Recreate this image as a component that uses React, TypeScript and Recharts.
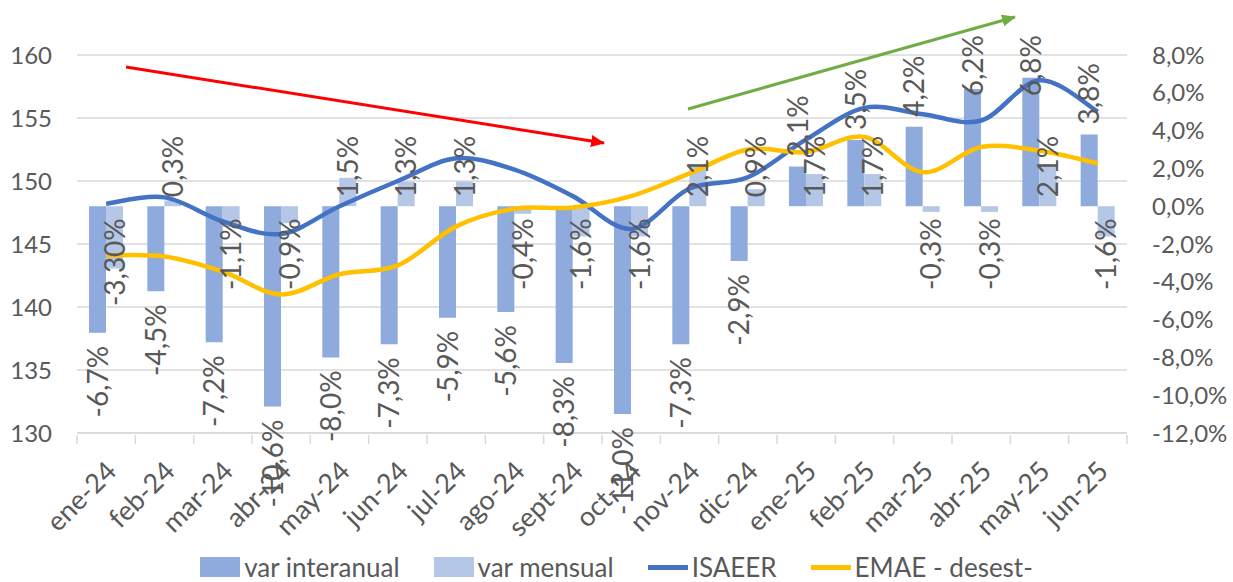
import React from "react";
import { ComposedChart, Bar, Line, XAxis, YAxis, CartesianGrid, Legend, LabelList } from "recharts";

const months = [
  "ene-24", "feb-24", "mar-24", "abr-24", "may-24", "jun-24", "jul-24", "ago-24", "sept-24",
  "oct-24", "nov-24", "dic-24", "ene-25", "feb-25", "mar-25", "abr-25", "may-25", "jun-25",
];
const varInteranual = [-6.7, -4.5, -7.2, -10.6, -8.0, -7.3, -5.9, -5.6, -8.3, -11.0, -7.3, -2.9, 2.1, 3.5, 4.2, 6.2, 6.8, 3.8];
const varMensual = [-3.3, 0.3, -1.1, -0.9, 1.5, 1.3, 1.3, -0.4, -1.6, -1.6, 2.1, 0.9, 1.7, 1.7, -0.3, -0.3, 2.1, -1.6];
const isaeer = [148.2, 148.7, 146.8, 145.8, 148.0, 150.0, 151.8, 150.9, 148.8, 146.2, 149.4, 150.3, 153.3, 155.8, 155.3, 154.8, 158.0, 155.5];
const emae = [144.1, 144.0, 142.8, 141.0, 142.6, 143.3, 146.4, 147.8, 147.9, 148.8, 150.6, 152.5, 152.3, 153.5, 150.7, 152.7, 152.4, 151.4];
// the source prints this one with two decimals
const mensualLabelOverride: Record<string, string> = { "ene-24": "-3,30%" };

const leftTicks = [130, 135, 140, 145, 150, 155, 160];
const rightTicks = [-12, -10, -8, -6, -4, -2, 0, 2, 4, 6, 8];

const data = months.map((m, i) => ({
  month: m,
  interanual: varInteranual[i],
  mensual: varMensual[i],
  isaeer: isaeer[i],
  emae: emae[i],
}));

const W = 1233;
const H = 582;
const LEFT_W = 77;
const RIGHT_W = 106;
const BAND = (W - LEFT_W - RIGHT_W) / months.length;

const FONT = 'Lato, "Noto Sans", sans-serif';
const TEXT = "#595959";
const GRID = "#d9d9d9";
const C_INTER = "#8faadc";
const C_MENS = "#b4c7e7";
const C_ISAEER = "#4472c4";
const C_EMAE = "#ffc000";
const LABEL_SIZE = 28;

const pct = (v: number) => v.toFixed(1).replace(".", ",") + "%";

let measureCtx: CanvasRenderingContext2D | null = null;
function textWidth(s: string) {
  if (!measureCtx) measureCtx = document.createElement("canvas").getContext("2d");
  if (!measureCtx) return s.length * LABEL_SIZE * 0.55;
  measureCtx.font = `${LABEL_SIZE}px Lato`;
  return measureCtx.measureText(s).width;
}

// Excel-like smoothed line (catmull-rom through every point)
const excelSmooth = (context: any) => {
  let pts: number[][] = [];
  return {
    areaStart() {},
    areaEnd() {},
    lineStart() {
      pts = [];
    },
    lineEnd() {
      const n = pts.length;
      if (!n) return;
      context.moveTo(pts[0][0], pts[0][1]);
      for (let i = 0; i < n - 1; i++) {
        const p0 = pts[Math.max(i - 1, 0)];
        const p1 = pts[i];
        const p2 = pts[i + 1];
        const p3 = pts[Math.min(i + 2, n - 1)];
        context.bezierCurveTo(
          p1[0] + (p2[0] - p0[0]) / 6,
          p1[1] + (p2[1] - p0[1]) / 6,
          p2[0] - (p3[0] - p1[0]) / 6,
          p2[1] - (p3[1] - p1[1]) / 6,
          p2[0],
          p2[1]
        );
      }
    },
    point(x: number, y: number) {
      pts.push([+x, +y]);
    },
  };
};

function barBox(props: any) {
  const vb = props.viewBox || props;
  const x = Number(vb.x);
  const w = Number(vb.width);
  const y1 = Number(vb.y);
  const y2 = y1 + Number(vb.height);
  return { cx: x + w / 2, top: Math.min(y1, y2), bottom: Math.max(y1, y2) };
}

function VLabel({ x, y, text, up }: { x: number; y: number; text: string; up: boolean }) {
  return (
    <text
      x={x}
      y={y}
      dy="0.36em"
      transform={`rotate(-90, ${x}, ${y})`}
      textAnchor={up ? "start" : "end"}
      fill={TEXT}
      fontSize={LABEL_SIZE}
      fontFamily={FONT}
    >
      {text}
    </text>
  );
}

// outside end, kept inside the chart area at the top
const InteranualLabel = (props: any) => {
  const v = Number(props.value);
  const { cx, top, bottom } = barBox(props);
  const text = pct(v);
  if (v >= 0) {
    const y = Math.max(top - 10, 35 + textWidth(text));
    return <VLabel x={cx} y={y} text={text} up />;
  }
  return <VLabel x={cx} y={bottom + 13} text={text} up={false} />;
};

// inside base
const MensualLabel = (props: any) => {
  const v = Number(props.value);
  const { cx, top, bottom } = barBox(props);
  const text = mensualLabelOverride[months[props.index]] ?? pct(v);
  if (v >= 0) return <VLabel x={cx} y={bottom - 9} text={text} up />;
  return <VLabel x={cx} y={top + 12} text={text} up={false} />;
};

const MonthTick = (props: any) => {
  const { x, y, payload, index } = props;
  const half = BAND / 2;
  const tx = x + 12;
  const ty = y + 38;
  return (
    <g>
      <line x1={x - half} x2={x - half} y1={y} y2={y + 9} stroke={GRID} strokeWidth={1.5} />
      {index === months.length - 1 && (
        <line x1={x + half} x2={x + half} y1={y} y2={y + 9} stroke={GRID} strokeWidth={1.5} />
      )}
      <text
        x={tx}
        y={ty}
        transform={`rotate(-45, ${tx}, ${ty})`}
        textAnchor="end"
        fill={TEXT}
        fontSize={27}
        fontFamily={FONT}
      >
        {payload.value}
      </text>
    </g>
  );
};

const legendItems = [
  { name: "var interanual", color: C_INTER, kind: "bar" },
  { name: "var mensual", color: C_MENS, kind: "bar" },
  { name: "ISAEER", color: C_ISAEER, kind: "line" },
  { name: "EMAE - desest-", color: C_EMAE, kind: "line" },
];

const LegendContent = () => (
  <div style={{ height: 30, position: "relative" }}>
    <div
      style={{
        position: "absolute",
        top: 5,
        left: 0,
        right: 0,
        display: "flex",
        justifyContent: "center",
        alignItems: "center",
        gap: 34,
        lineHeight: "20px",
        fontFamily: FONT,
        fontSize: 26,
        color: TEXT,
        whiteSpace: "nowrap",
      }}
    >
      {legendItems.map((it) => (
        <div key={it.name} style={{ display: "flex", alignItems: "center", gap: 4 }}>
          {it.kind === "bar" ? (
            <span style={{ display: "inline-block", width: 40, height: 20, background: it.color }} />
          ) : (
            <span style={{ display: "inline-block", width: 40, height: 5, background: it.color }} />
          )}
          <span>{it.name}</span>
        </div>
      ))}
    </div>
  </div>
);

export default function App() {
  return (
    <div style={{ position: "absolute", left: 0, top: 0, width: W, height: H, background: "#fff" }}>
      <ComposedChart
        width={W}
        height={H}
        data={data}
        margin={{ top: 55, right: 0, bottom: 0, left: 0 }}
        barGap={0}
        barSize={17}
      >
        <CartesianGrid yAxisId="left" vertical={false} stroke={GRID} strokeWidth={1.5} />
        <XAxis
          dataKey="month"
          interval={0}
          height={119}
          tickSize={0}
          tickLine={false}
          axisLine={{ stroke: GRID, strokeWidth: 1.5 }}
          tick={<MonthTick />}
        />
        <YAxis
          yAxisId="left"
          orientation="left"
          width={LEFT_W}
          domain={[130, 160]}
          ticks={leftTicks}
          axisLine={false}
          tickLine={false}
          tickSize={0}
          tickMargin={25}
          tick={{ fill: TEXT, fontSize: 24, fontFamily: FONT }}
        />
        <YAxis
          yAxisId="right"
          orientation="right"
          width={RIGHT_W}
          domain={[-12, 8]}
          ticks={rightTicks}
          axisLine={false}
          tickLine={false}
          tickSize={0}
          tickMargin={25}
          tickFormatter={pct}
          tick={{ fill: TEXT, fontSize: 24, fontFamily: FONT, textAnchor: "start" }}
        />
        <Legend verticalAlign="bottom" content={<LegendContent />} />
        <Bar yAxisId="right" dataKey="interanual" name="var interanual" fill={C_INTER} isAnimationActive={false}>
          <LabelList dataKey="interanual" content={<InteranualLabel />} />
        </Bar>
        <Bar yAxisId="right" dataKey="mensual" name="var mensual" fill={C_MENS} isAnimationActive={false}>
          <LabelList dataKey="mensual" content={<MensualLabel />} />
        </Bar>
        <Line
          yAxisId="left"
          dataKey="isaeer"
          name="ISAEER"
          type={excelSmooth as any}
          stroke={C_ISAEER}
          strokeWidth={4.5}
          dot={false}
          activeDot={false}
          isAnimationActive={false}
        />
        <Line
          yAxisId="left"
          dataKey="emae"
          name="EMAE - desest-"
          type={excelSmooth as any}
          stroke={C_EMAE}
          strokeWidth={4.5}
          dot={false}
          activeDot={false}
          isAnimationActive={false}
        />
      </ComposedChart>
      <svg width={W} height={H} style={{ position: "absolute", left: 0, top: 0, pointerEvents: "none" }}>
        <defs>
          <marker id="headRed" markerUnits="userSpaceOnUse" markerWidth="14" markerHeight="12" refX="13" refY="6" orient="auto">
            <path d="M0,0 L14,6 L0,12 Z" fill="#ff0000" />
          </marker>
          <marker id="headGreen" markerUnits="userSpaceOnUse" markerWidth="14" markerHeight="12" refX="13" refY="6" orient="auto">
            <path d="M0,0 L14,6 L0,12 Z" fill="#70ad47" />
          </marker>
        </defs>
        <line x1={126} y1={67} x2={604} y2={143} stroke="#ff0000" strokeWidth={3} markerEnd="url(#headRed)" />
        <line x1={688} y1={109} x2={1015} y2={17} stroke="#70ad47" strokeWidth={3} markerEnd="url(#headGreen)" />
      </svg>
    </div>
  );
}
